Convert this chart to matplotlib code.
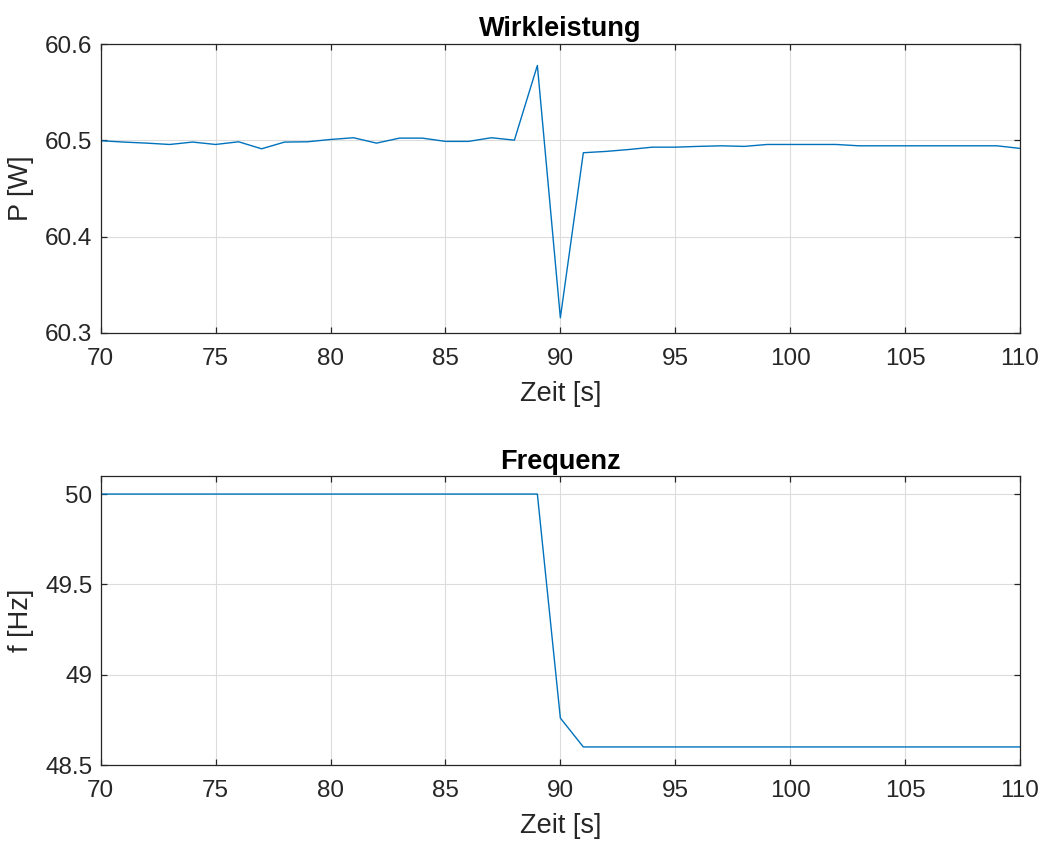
import matplotlib
matplotlib.use("Agg")
import matplotlib.pyplot as plt
import numpy as np

# Time axis (one sample per second)
zeit = list(range(70, 111))

# Active power [W]
wirkleistung = [
    60.4997, 60.4983, 60.4972, 60.4958, 60.4983, 60.4958, 60.4986, 60.4913,
    60.4983, 60.4986, 60.5010, 60.5028, 60.4972, 60.5024, 60.5024, 60.4990,
    60.4990, 60.5028, 60.5003, 60.5780, 60.3155, 60.4872, 60.4886, 60.4906,
    60.4930, 60.4930, 60.4938, 60.4944, 60.4938, 60.4958, 60.4958, 60.4958,
    60.4958, 60.4944, 60.4944, 60.4944, 60.4944, 60.4944, 60.4944, 60.4944,
    60.4917,
]

# Grid frequency [Hz]
frequenz = [50.0] * 20 + [48.76] + [48.60] * 20

x_ticks = [70, 75, 80, 85, 90, 95, 100, 105, 110]
p_ticks = [60.3, 60.4, 60.5, 60.6]
f_ticks = [48.5, 49, 49.5, 50]
f_tick_labels = ["48.5", "49", "49.5", "50"]

plt.rcParams["font.family"] = ["Liberation Sans", "DejaVu Sans"]

W, H = 1045, 844
fig = plt.figure(figsize=(W / 100, H / 100), dpi=100)

line_color = "#0072BD"
axis_color = "#262626"
text_color = "#262626"


def make_axes(rect_px):
    l, t, r, b = rect_px
    ax = fig.add_axes([l / W, 1 - b / H, (r - l) / W, (b - t) / H])
    for s in ax.spines.values():
        s.set_color(axis_color)
        s.set_linewidth(0.9)
    ax.tick_params(direction="in", length=4.5, width=0.9, colors=axis_color,
                   labelsize=17.5, labelcolor=text_color,
                   top=True, right=True)
    ax.tick_params(axis="x", pad=11)
    ax.tick_params(axis="y", pad=6)
    ax.grid(True, color="#dcdcdc", linewidth=0.8)
    ax.set_axisbelow(True)
    return ax


ax1 = make_axes((100.7, 44.3, 1020, 332.7))
ax1.plot(zeit, wirkleistung, color=line_color, linewidth=1.0)
ax1.set_xlim(70, 110)
ax1.set_ylim(60.3, 60.6)
ax1.set_xticks(x_ticks)
ax1.set_yticks(p_ticks)
ax1.set_yticklabels([f"{v:.1f}" for v in p_ticks])
ax1.set_title("Wirkleistung", fontsize=19.5, fontweight="bold", pad=6)
ax1.set_xlabel("Zeit [s]", fontsize=19.5, labelpad=8, color=text_color)
ax1.set_ylabel("P [W]", fontsize=19.5, labelpad=8, color=text_color)

ax2 = make_axes((100.7, 476, 1020, 765))
ax2.plot(zeit, frequenz, color=line_color, linewidth=1.0)
ax2.set_xlim(70, 110)
ax2.set_ylim(48.5, 50.1)
ax2.set_xticks(x_ticks)
ax2.set_yticks(f_ticks)
ax2.set_yticklabels(f_tick_labels)
ax2.set_title("Frequenz", fontsize=19.5, fontweight="bold", pad=5)
ax2.set_xlabel("Zeit [s]", fontsize=19.5, labelpad=8, color=text_color)
ax2.set_ylabel("f [Hz]", fontsize=19.5, labelpad=8, color=text_color)

fig.savefig("out.png", dpi=100, facecolor="white")
